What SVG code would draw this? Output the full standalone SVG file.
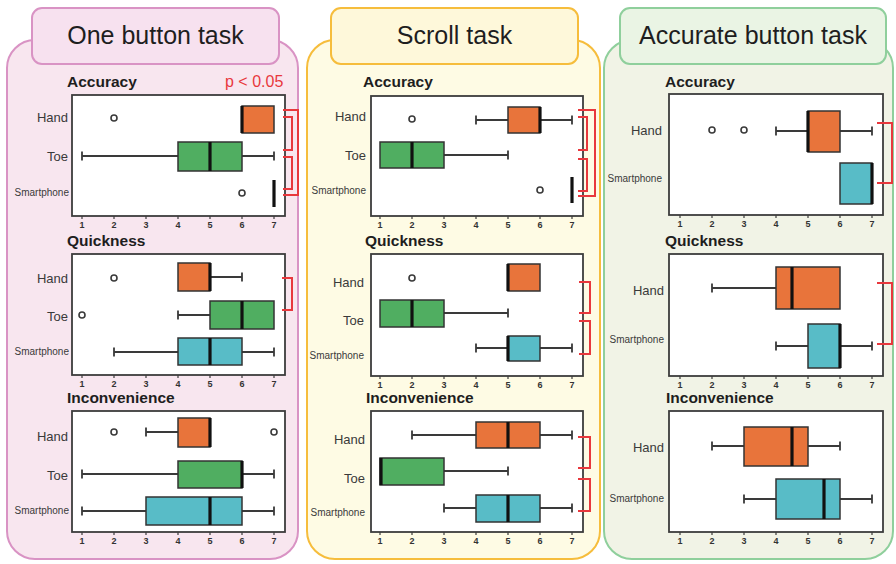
<svg xmlns="http://www.w3.org/2000/svg" width="896" height="564" viewBox="0 0 896 564">
  <style>
    text { font-family: "Liberation Sans", Arial, sans-serif; fill: #2b2b2b; }
    .title { font-size: 25px; text-anchor: middle; fill: #1e1e1e; }
    .sub { font-size: 15.5px; font-weight: bold; fill: #1e1e1e; }
    .lbl { font-size: 13px; text-anchor: end; fill: #3a3a3a; }
    .lbs { font-size: 10px; text-anchor: end; fill: #3a3a3a; }
    .tk { font-size: 9px; font-weight: bold; text-anchor: middle; fill: #333; }
    .pval { font-size: 16px; fill: #e8383d; }
    .frame { fill: #fff; stroke: #3c3c3c; stroke-width: 1.8; }
    .ticks { fill: none; stroke: #3c3c3c; stroke-width: 1.2; }
    .wh { fill: none; stroke: #3a3a3a; stroke-width: 1.8; }
    .med { stroke: #111; stroke-width: 3.2; }
    .bh { fill: #e8743b; stroke: #333; stroke-width: 1.5; }
    .bt { fill: #50ae61; stroke: #333; stroke-width: 1.5; }
    .bs { fill: #58bcc7; stroke: #333; stroke-width: 1.5; }
    .out { fill: #fff; stroke: #3a3a3a; stroke-width: 1.6; }
    .sig { fill: none; stroke: #e8383d; stroke-width: 2; }
  </style>

  <!-- ===== One button task ===== -->
  <g id="one-button-task">
    <rect x="7" y="40" width="291" height="519" rx="28" fill="#f8e6ef" stroke="#d993c4" stroke-width="2"/>
    <rect x="32" y="8" width="247" height="56" rx="10" fill="#f7e1ef" stroke="#d993c4" stroke-width="2"/>
    <text class="title" x="155.5" y="44">One button task</text>

    <g id="one-accuracy">
      <text class="sub" x="67" y="87">Accuracy</text>
      <text class="pval" x="225" y="87">p &lt; 0.05</text>
      <rect class="frame" x="72" y="95" width="213" height="121"/>
      <path class="ticks" d="M82,216v3M114,216v3M146,216v3M178,216v3M210,216v3M242,216v3M274,216v3"/>
      <g class="tk-row">
        <text class="tk" x="82" y="228">1</text><text class="tk" x="114" y="228">2</text><text class="tk" x="146" y="228">3</text><text class="tk" x="178" y="228">4</text><text class="tk" x="210" y="228">5</text><text class="tk" x="242" y="228">6</text><text class="tk" x="274" y="228">7</text>
      </g>
      <text class="lbl" x="68" y="122">Hand</text>
      <text class="lbl" x="68" y="161">Toe</text>
      <text class="lbs" x="69" y="196">Smartphone</text>
      <rect class="bh" x="242" y="106" width="32" height="27"/>
      <line class="med" x1="242" y1="106" x2="242" y2="133"/>
      <circle class="out" cx="114" cy="118" r="3"/>
      <path class="wh" d="M82,156H178M242,156H274M82,151.5V160.5M274,151.5V160.5"/>
      <rect class="bt" x="178" y="142" width="64" height="29"/>
      <line class="med" x1="210" y1="142" x2="210" y2="171"/>
      <line class="med" x1="274" y1="180" x2="274" y2="207"/>
      <circle class="out" cx="242" cy="193" r="3"/>
    </g>

    <g id="one-quickness">
      <text class="sub" x="67" y="246">Quickness</text>
      <rect class="frame" x="72" y="254" width="213" height="121"/>
      <path class="ticks" d="M82,375v3M114,375v3M146,375v3M178,375v3M210,375v3M242,375v3M274,375v3"/>
      <g class="tk-row">
        <text class="tk" x="82" y="387">1</text><text class="tk" x="114" y="387">2</text><text class="tk" x="146" y="387">3</text><text class="tk" x="178" y="387">4</text><text class="tk" x="210" y="387">5</text><text class="tk" x="242" y="387">6</text><text class="tk" x="274" y="387">7</text>
      </g>
      <text class="lbl" x="68" y="283">Hand</text>
      <text class="lbl" x="68" y="321">Toe</text>
      <text class="lbs" x="69" y="355">Smartphone</text>
      <path class="wh" d="M210,277H242M242,272.5V281.5"/>
      <rect class="bh" x="178" y="263" width="32" height="28"/>
      <line class="med" x1="210" y1="263" x2="210" y2="291"/>
      <circle class="out" cx="114" cy="278" r="3"/>
      <path class="wh" d="M178,315H210M178,310.5V319.5"/>
      <rect class="bt" x="210" y="301" width="64" height="28"/>
      <line class="med" x1="242" y1="301" x2="242" y2="329"/>
      <circle class="out" cx="82" cy="315" r="3"/>
      <path class="wh" d="M114,352H178M242,352H274M114,347.5V356.5M274,347.5V356.5"/>
      <rect class="bs" x="178" y="338" width="64" height="27"/>
      <line class="med" x1="210" y1="338" x2="210" y2="365"/>
    </g>

    <g id="one-inconvenience">
      <text class="sub" x="67" y="403">Inconvenience</text>
      <rect class="frame" x="72" y="411" width="213" height="121"/>
      <path class="ticks" d="M82,532v3M114,532v3M146,532v3M178,532v3M210,532v3M242,532v3M274,532v3"/>
      <g class="tk-row">
        <text class="tk" x="82" y="544">1</text><text class="tk" x="114" y="544">2</text><text class="tk" x="146" y="544">3</text><text class="tk" x="178" y="544">4</text><text class="tk" x="210" y="544">5</text><text class="tk" x="242" y="544">6</text><text class="tk" x="274" y="544">7</text>
      </g>
      <text class="lbl" x="68" y="441">Hand</text>
      <text class="lbl" x="68" y="480">Toe</text>
      <text class="lbs" x="69" y="514">Smartphone</text>
      <path class="wh" d="M146,432H178M146,427.5V436.5"/>
      <rect class="bh" x="178" y="418" width="32" height="29"/>
      <line class="med" x1="210" y1="418" x2="210" y2="447"/>
      <circle class="out" cx="114" cy="432" r="3"/>
      <circle class="out" cx="274" cy="432" r="3"/>
      <path class="wh" d="M82,474H178M242,474H274M82,469.5V478.5M274,469.5V478.5"/>
      <rect class="bt" x="178" y="461" width="64" height="27"/>
      <line class="med" x1="242" y1="461" x2="242" y2="488"/>
      <path class="wh" d="M82,511H146M242,511H274M82,506.5V515.5M274,506.5V515.5"/>
      <rect class="bs" x="146" y="497" width="96" height="28"/>
      <line class="med" x1="210" y1="497" x2="210" y2="525"/>
    </g>
  </g>

  <!-- ===== Scroll task ===== -->
  <g id="scroll-task">
    <rect x="307" y="40" width="293" height="519" rx="28" fill="#fefbe4" stroke="#f6bd3c" stroke-width="2"/>
    <rect x="331" y="8" width="247" height="56" rx="10" fill="#fef8da" stroke="#f6bd3c" stroke-width="2"/>
    <text class="title" x="454.5" y="44">Scroll task</text>

    <g id="scroll-accuracy">
      <text class="sub" x="363" y="87">Accuracy</text>
      <rect class="frame" x="371" y="96" width="212" height="120"/>
      <path class="ticks" d="M380,216v3M412,216v3M444,216v3M476,216v3M508,216v3M540,216v3M572,216v3"/>
      <g class="tk-row">
        <text class="tk" x="380" y="228">1</text><text class="tk" x="412" y="228">2</text><text class="tk" x="444" y="228">3</text><text class="tk" x="476" y="228">4</text><text class="tk" x="508" y="228">5</text><text class="tk" x="540" y="228">6</text><text class="tk" x="572" y="228">7</text>
      </g>
      <text class="lbl" x="366" y="121">Hand</text>
      <text class="lbl" x="366" y="160">Toe</text>
      <text class="lbs" x="366" y="194">Smartphone</text>
      <path class="wh" d="M476,120H508M540,120H572M476,115.5V124.5M572,115.5V124.5"/>
      <rect class="bh" x="508" y="107" width="32" height="26"/>
      <line class="med" x1="540" y1="107" x2="540" y2="133"/>
      <circle class="out" cx="412" cy="119" r="3"/>
      <path class="wh" d="M444,155H508M508,150.5V159.5"/>
      <rect class="bt" x="380" y="142" width="64" height="26"/>
      <line class="med" x1="412" y1="142" x2="412" y2="168"/>
      <line class="med" x1="572" y1="177" x2="572" y2="203"/>
      <circle class="out" cx="540" cy="190" r="3"/>
    </g>

    <g id="scroll-quickness">
      <text class="sub" x="365" y="246">Quickness</text>
      <rect class="frame" x="371" y="254" width="212" height="122"/>
      <path class="ticks" d="M380,376v3M412,376v3M444,376v3M476,376v3M508,376v3M540,376v3M572,376v3"/>
      <g class="tk-row">
        <text class="tk" x="380" y="388">1</text><text class="tk" x="412" y="388">2</text><text class="tk" x="444" y="388">3</text><text class="tk" x="476" y="388">4</text><text class="tk" x="508" y="388">5</text><text class="tk" x="540" y="388">6</text><text class="tk" x="572" y="388">7</text>
      </g>
      <text class="lbl" x="364" y="287">Hand</text>
      <text class="lbl" x="364" y="325">Toe</text>
      <text class="lbs" x="364" y="359">Smartphone</text>
      <rect class="bh" x="508" y="264" width="32" height="27"/>
      <line class="med" x1="508" y1="264" x2="508" y2="291"/>
      <circle class="out" cx="412" cy="278" r="3"/>
      <path class="wh" d="M444,313H508M508,308.5V317.5"/>
      <rect class="bt" x="380" y="300" width="64" height="27"/>
      <line class="med" x1="412" y1="300" x2="412" y2="327"/>
      <path class="wh" d="M476,348H508M540,348H572M476,343.5V352.5M572,343.5V352.5"/>
      <rect class="bs" x="508" y="336" width="32" height="25"/>
      <line class="med" x1="508" y1="336" x2="508" y2="361"/>
    </g>

    <g id="scroll-inconvenience">
      <text class="sub" x="366" y="403">Inconvenience</text>
      <rect class="frame" x="371" y="411" width="212" height="121"/>
      <path class="ticks" d="M380,532v3M412,532v3M444,532v3M476,532v3M508,532v3M540,532v3M572,532v3"/>
      <g class="tk-row">
        <text class="tk" x="380" y="544">1</text><text class="tk" x="412" y="544">2</text><text class="tk" x="444" y="544">3</text><text class="tk" x="476" y="544">4</text><text class="tk" x="508" y="544">5</text><text class="tk" x="540" y="544">6</text><text class="tk" x="572" y="544">7</text>
      </g>
      <text class="lbl" x="365" y="444">Hand</text>
      <text class="lbl" x="365" y="483">Toe</text>
      <text class="lbs" x="365" y="516">Smartphone</text>
      <path class="wh" d="M412,435H476M540,435H572M412,430.5V439.5M572,430.5V439.5"/>
      <rect class="bh" x="476" y="422" width="64" height="26"/>
      <line class="med" x1="508" y1="422" x2="508" y2="448"/>
      <path class="wh" d="M444,471H508M508,466.5V475.5"/>
      <rect class="bt" x="380" y="458" width="64" height="27"/>
      <line class="med" x1="381" y1="458" x2="381" y2="485"/>
      <path class="wh" d="M444,508H476M540,508H572M444,503.5V512.5M572,503.5V512.5"/>
      <rect class="bs" x="476" y="495" width="64" height="27"/>
      <line class="med" x1="508" y1="495" x2="508" y2="522"/>
    </g>
  </g>

  <!-- ===== Accurate button task ===== -->
  <g id="accurate-button-task">
    <rect x="604" y="40" width="289" height="519" rx="28" fill="#f1f3e6" stroke="#8fcf9c" stroke-width="2"/>
    <rect x="620" y="8" width="266" height="56" rx="10" fill="#eaf4e4" stroke="#8fcf9c" stroke-width="2"/>
    <text class="title" x="753" y="44">Accurate button task</text>

    <g id="accurate-accuracy">
      <text class="sub" x="665" y="87">Accuracy</text>
      <rect class="frame" x="669" y="94" width="214" height="121"/>
      <path class="ticks" d="M680,215v3M712,215v3M744,215v3M776,215v3M808,215v3M840,215v3M872,215v3"/>
      <g class="tk-row">
        <text class="tk" x="680" y="227">1</text><text class="tk" x="712" y="227">2</text><text class="tk" x="744" y="227">3</text><text class="tk" x="776" y="227">4</text><text class="tk" x="808" y="227">5</text><text class="tk" x="840" y="227">6</text><text class="tk" x="872" y="227">7</text>
      </g>
      <text class="lbl" x="662" y="135">Hand</text>
      <text class="lbs" x="662" y="182">Smartphone</text>
      <path class="wh" d="M776,131H808M840,131H872M776,126.5V135.5M872,126.5V135.5"/>
      <rect class="bh" x="808" y="111" width="32" height="41"/>
      <line class="med" x1="808" y1="111" x2="808" y2="152"/>
      <circle class="out" cx="712" cy="130" r="3"/>
      <circle class="out" cx="744" cy="130" r="3"/>
      <rect class="bs" x="840" y="163" width="32" height="41"/>
      <line class="med" x1="872" y1="163" x2="872" y2="204"/>
    </g>

    <g id="accurate-quickness">
      <text class="sub" x="665" y="246">Quickness</text>
      <rect class="frame" x="669" y="254" width="214" height="122"/>
      <path class="ticks" d="M680,376v3M712,376v3M744,376v3M776,376v3M808,376v3M840,376v3M872,376v3"/>
      <g class="tk-row">
        <text class="tk" x="680" y="388">1</text><text class="tk" x="712" y="388">2</text><text class="tk" x="744" y="388">3</text><text class="tk" x="776" y="388">4</text><text class="tk" x="808" y="388">5</text><text class="tk" x="840" y="388">6</text><text class="tk" x="872" y="388">7</text>
      </g>
      <text class="lbl" x="664" y="295">Hand</text>
      <text class="lbs" x="664" y="343">Smartphone</text>
      <path class="wh" d="M712,288H776M712,283.5V292.5"/>
      <rect class="bh" x="776" y="267" width="64" height="42"/>
      <line class="med" x1="792" y1="267" x2="792" y2="309"/>
      <path class="wh" d="M776,346H808M840,346H872M776,341.5V350.5M872,341.5V350.5"/>
      <rect class="bs" x="808" y="324" width="32" height="44"/>
      <line class="med" x1="840" y1="324" x2="840" y2="368"/>
    </g>

    <g id="accurate-inconvenience">
      <text class="sub" x="666" y="403">Inconvenience</text>
      <rect class="frame" x="669" y="411" width="214" height="121"/>
      <path class="ticks" d="M680,532v3M712,532v3M744,532v3M776,532v3M808,532v3M840,532v3M872,532v3"/>
      <g class="tk-row">
        <text class="tk" x="680" y="544">1</text><text class="tk" x="712" y="544">2</text><text class="tk" x="744" y="544">3</text><text class="tk" x="776" y="544">4</text><text class="tk" x="808" y="544">5</text><text class="tk" x="840" y="544">6</text><text class="tk" x="872" y="544">7</text>
      </g>
      <text class="lbl" x="664" y="452">Hand</text>
      <text class="lbs" x="664" y="502">Smartphone</text>
      <path class="wh" d="M712,446H744M808,446H840M712,441.5V450.5M840,441.5V450.5"/>
      <rect class="bh" x="744" y="427" width="64" height="39"/>
      <line class="med" x1="792" y1="427" x2="792" y2="466"/>
      <path class="wh" d="M744,499H776M840,499H872M744,494.5V503.5M872,494.5V503.5"/>
      <rect class="bs" x="776" y="479" width="64" height="40"/>
      <line class="med" x1="824" y1="479" x2="824" y2="519"/>
    </g>
  </g>

  <!-- significance brackets between conditions (p < 0.05) -->
  <g id="connectors">
    <path class="sig" d="M283,110H298V195H283"/>
    <path class="sig" d="M283,117H292V150H283"/>
    <path class="sig" d="M283,157H292V189H283"/>
    <path class="sig" d="M282,278H292V310H282"/>
    <path class="sig" d="M578,110H595V196H578"/>
    <path class="sig" d="M578,117H587V150H578"/>
    <path class="sig" d="M578,159H587V191H578"/>
    <path class="sig" d="M579,282H590V313H579"/>
    <path class="sig" d="M579,321H590V354H579"/>
    <path class="sig" d="M578,437H590V468H578"/>
    <path class="sig" d="M578,479H590V511H578"/>
    <path class="sig" d="M877,123H892V183H877"/>
    <path class="sig" d="M877,283H892V344H877"/>
  </g>
</svg>
